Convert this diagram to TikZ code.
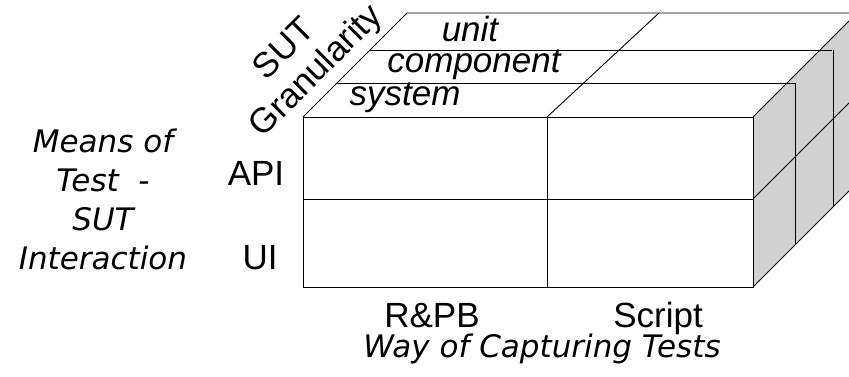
\documentclass[tikz,border=0pt]{standalone}
\usepackage{fontspec}
\setmainfont{Liberation Sans}
\newfontfamily\axisfont{DejaVu Sans}
\usepackage{tikz}
\definecolor{sidegray}{gray}{0.82}

\begin{document}
\begin{tikzpicture}[x=1pt, y=1pt, line width=0.9pt,
        cell/.style={font=\fontsize{35}{40}\selectfont, anchor=base, inner sep=0pt},
        layer/.style={font=\fontsize{35}{40}\selectfont\itshape, anchor=base, inner sep=0pt},
        axis/.style={font=\fontsize{31}{39}\axisfont\itshape, inner sep=0pt, align=center}]
    \useasboundingbox (0, 0) rectangle (849, 377);
    \clip (0, 0) rectangle (849, 377);

    % side of the cube
    \fill[sidegray] (753, 90) -- (857, 194) -- (857, 364) -- (753, 260) -- cycle;
    \draw (753, 260) -- (857, 364);
    \draw (753, 178) -- (857, 282);
    \draw (753, 90) -- (857, 194);
    \draw (795, 294) -- (795, 132);
    \draw (833, 327) -- (833, 170);

    % top of the cube
    \draw (303, 260) -- (407, 364) -- (857, 364);
    \draw (337, 294) -- (796, 294);
    \draw (370, 327) -- (832, 327);
    \draw (547, 260) -- (659, 364);

    % front of the cube
    \draw (303, 90) rectangle (753, 260);
    \draw (303, 178) -- (753, 178);
    \draw (547, 90) -- (547, 260);

    \node[cell, anchor=center, rotate=45] (sut) at (283, 329) {SUT};
    \node[cell, anchor=center, rotate=45] (granularity) at (317, 305) {Granularity};
    \node[layer] (unit) at (470, 335) {unit};
    \node[layer] (component) at (474, 304) {component};
    \node[layer] (system) at (405, 271) {system};

    \node[axis] (means) at (103, 178) {Means of\\Test \ -\\SUT\\Interaction};
    \node[cell] (api) at (256, 191) {API};
    \node[cell] (ui) at (260, 107) {UI};

    \node[cell] (rpb) at (432, 49) {R\&PB};
    \node[cell] (script) at (658, 49) {Script};
    \node[axis, anchor=base] (way) at (542, 19) {Way of Capturing Tests};
\end{tikzpicture}
\end{document}
